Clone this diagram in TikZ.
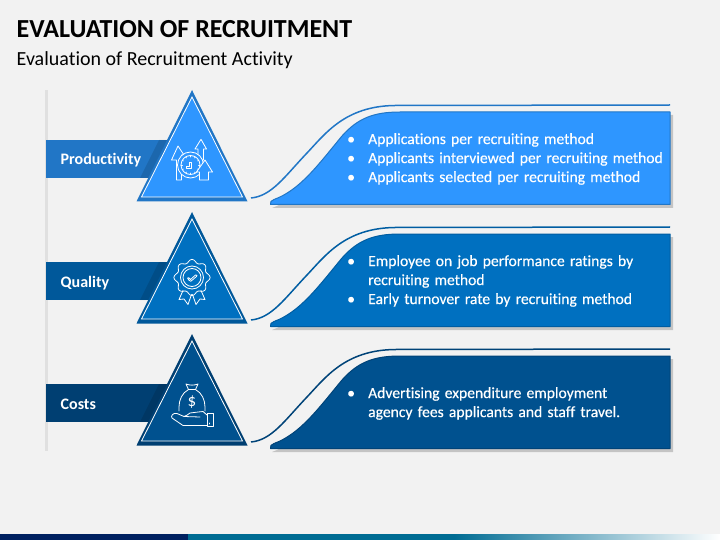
\documentclass[tikz,border=0pt]{standalone}
\usepackage{fontspec}
\setmainfont[Ligatures=NoCommon]{Carlito}
\newfontfamily\semibold[Ligatures=NoCommon,FakeBold=0.35]{Carlito}
\usetikzlibrary{calc}
\definecolor{bgc}{HTML}{F2F2F2}
\definecolor{rowa}{HTML}{2E96FF}
\definecolor{banda}{HTML}{2176C6}
\definecolor{rowb}{HTML}{0070C0}
\definecolor{bandb}{HTML}{00589A}
\definecolor{rowc}{HTML}{00518F}
\definecolor{bandc}{HTML}{003F72}
\definecolor{navy}{HTML}{002060}
\pgfdeclarehorizontalshading{barshade}{100bp}{
  color(0bp)=(rowb); color(22bp)=(rgb:red,0;green,176;blue,240); color(50bp)=(rgb:red,0;green,176;blue,240);
  color(75bp)=(white); color(85bp)=(white); color(100bp)=(rgb:red,0;green,150;blue,220)}
\newcommand\bul[1]{\hangindent=22pt\hangafter=1\noindent\makebox[22pt][l]{\hspace{1pt}\textbullet}#1\par}
\tikzset{
  icon/.style={draw=white,line width=0.8pt,line join=round,line cap=round,fill=none},
  bandtxt/.style={text=white,font=\fontsize{16}{19}\selectfont\bfseries,anchor=base west,inner sep=0pt},
  paneltxt/.style={text=white,anchor=west,inner sep=0pt,text width=322pt,align=left,
     font=\semibold\fontsize{15.6}{19}\selectfont},
  pics/row/.style n args={3}{code={
    \fill[#2] (46,140) rectangle (172,178);
    \fill[black,opacity=.12] (159,140) -- (168,140) -- (149,178) -- (140,178) -- cycle;
    \fill[#2] (192,90) -- (247.5,201.5) -- (136.5,201.5) -- cycle;
    \fill[#1,draw=white,line width=0.8pt,line join=miter] (192,97) -- (242.5,197) -- (141.5,197) -- cycle;
    \draw[#3,line width=1.5pt] (251,198) .. controls (272,196) and (285,176) .. (307,153)
       .. controls (325,134) and (345,106) .. (395,105.5) -- (670,105);
    \fill[black!45,opacity=.45] (272,208) .. controls (300,198) and (318,170) .. (345,140)
       .. controls (362,122) and (375,115) .. (400,115) -- (673,115) -- (673,208) -- cycle;
    \fill[#1,draw=#3,line width=1pt,line join=round]
      (270.5,204.5) .. controls (270,202) and (271,200.5) .. (274,199.5)
      .. controls (300,190) and (318,165) .. (342,136)
      .. controls (358,118) and (374,112) .. (400,112) -- (670,112) -- (670,204.5) -- cycle;
  }},
  pics/rosette/.style={code={
    \draw[icon] plot[smooth cycle,samples=65,domain=0:360,variable=\t]
      ({16.5*cos(\t)*(1+0.10*cos(8*\t))},{16.5*sin(\t)*(1+0.10*cos(8*\t))});
    \draw[icon] (0,0) circle (11.5);
    \draw[icon] (0,0) circle (9);
    \draw[icon] (-4.5,0.5) .. controls (-3.5,-0.5) and (-3,0.5) .. (-1.5,2)
       -- (3.5,-2.5) .. controls (5,-3.2) and (5.5,-1.6) .. (4.5,-1) -- (-1.2,3.8)
       .. controls (-2,4) and (-4.5,1.5) .. (-4.5,0.5) -- cycle;
    \draw[icon] (-9,13) -- (-13,22) -- (-8,21.5) -- (-4,27) -- (-0.5,17);
    \draw[icon] (9,13) -- (13,22) -- (8,21.5) -- (4,27) -- (0.5,17);
  }},
  pics/clockup/.style={code={
    \draw[icon] (-14,15) -- (-14,-5) -- (-19,-5) -- (-12.5,-19) -- (-6.5,-10) -- (-9,-10) -- (-9,15) -- cycle;
    \draw[icon] (7.5,-5) -- (7.5,-16) -- (4.5,-16) -- (10.5,-25.7) -- (16,-16) -- (13,-16) -- (13,-5);
    \draw[icon,fill=rowa] (0,0) circle (13);
    \draw[icon] (0,0) circle (9.5);
    \foreach \a in {0,30,...,330} \draw[icon,line width=.6pt] (\a:8) -- (\a:9.5);
    \draw[icon] (-4,1) -- (-1,1) -- (-1,-3) -- (1,-3) -- (1,3) -- (-4,3) -- cycle;
    \draw[icon,fill=rowa] (9,15) -- (9,7) -- (6,7) -- (14.5,-5) -- (22,7) -- (18,7) -- (18,15) -- cycle;
  }},
  pics/moneybag/.style={code={
    \draw[icon] (-6,-26) .. controls (-2,-24.5) and (2,-24.5) .. (6,-26) -- (3.5,-20.5) -- (-3.5,-20.5) -- cycle;
    \draw[icon] (-3.5,-20.5) .. controls (-10,-17) and (-13,-10) .. (-13,-3) -- (-13,1);
    \draw[icon] (3.5,-20.5) .. controls (10,-17) and (13,-10) .. (13,-3) -- (13,1);
    \node[text=white,inner sep=0pt,font=\fontsize{17}{17}\selectfont] (dollar) at (0,-8) {\$};
    \draw[icon] (15,5) -- (11,1.5) .. controls (6,2) and (2,2.5) .. (-2,3)
       .. controls (-4,4.5) and (-6,6) .. (-8,6.5)
       -- (-15,3.5) .. controls (-19,2.5) and (-21.5,6) .. (-20,8) -- (-9,15.5) -- (15,15.5);
    \draw[icon] (-8,6.5) -- (8,7);
    \draw[icon] (15,3) rectangle (21,16.5);
    \draw[icon] (17.5,13) -- (17.5,14);
  }}
}
\begin{document}
\begin{tikzpicture}[x=1pt,y=-1pt]
\useasboundingbox (0,0) rectangle (720,540);
\fill[bgc] (0,0) rectangle (720,540);
\path[shading=barshade] (188,534) rectangle (720,540);
\fill[navy] (0,534) rectangle (188,540);
\node[anchor=base west,inner sep=0pt,font=\fontsize{26}{32}\selectfont\bfseries,text=black] (title) at (16.5,37.5) {EVALUATION OF RECRUITMENT};
\node[anchor=base west,inner sep=0pt,font=\fontsize{20}{24}\selectfont,text=black] (subtitle) at (16.5,66) {Evaluation of Recruitment Activity};
\fill[black!12] (45,90) rectangle (47.5,451);
\path (0,0) pic {row={rowa}{banda}{banda}};
\path (0,122) pic {row={rowb}{bandb}{bandb!80!rowb}};
\path (0,244) pic {row={rowc}{bandc}{bandc!80!rowc}};
\node[bandtxt] (prod) at (60.5,164.5) {Productivity};
\node[bandtxt] (qual) at (60.5,287) {Quality};
\node[bandtxt] (cost) at (60.5,409) {Costs};
\path (190.5,165) pic {clockup};
\path (192,277.5) pic {rosette};
\path (192,410) pic {moneybag};
\node[paneltxt] (pa) at (346,159) {\bul{Applications per recruiting method}\bul{Applicants interviewed per recruiting method}\bul{Applicants selected per recruiting method}};
\node[paneltxt] (pb) at (346,281) {\bul{Employee on job performance ratings by\newline recruiting method}\bul{Early turnover rate by recruiting method}};
\node[paneltxt] (pc) at (346,403.5) {\bul{Advertising expenditure employment\newline agency fees applicants and staff travel.}};
\end{tikzpicture}
\end{document}
